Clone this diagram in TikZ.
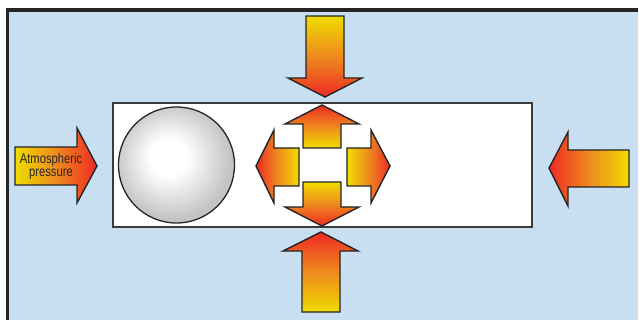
\documentclass[tikz,border=0pt]{standalone}
\usepackage{fontspec}
\newfontfamily\narrowsans[FakeStretch=0.8]{Liberation Sans}
\definecolor{bgblue}{HTML}{C8DFF2}
\definecolor{edgec}{HTML}{252525}
\definecolor{yel}{HTML}{F0DC00}
\definecolor{org}{HTML}{EE8A1E}
\definecolor{redc}{HTML}{EE2A24}
\pgfdeclareradialshading{ballshade}{\pgfpoint{-4bp}{4bp}}{color(0bp)=(white); color(8bp)=(white); color(25bp)=(black!23); color(50bp)=(black!23)}
\tikzset{
  arr/.style={draw=edgec, line width=1.4pt, line join=miter},
  toR/.style={arr, left color=yel, right color=redc, middle color=org},
  toL/.style={arr, left color=redc, right color=yel, middle color=org},
  toD/.style={arr, top color=yel, bottom color=redc, middle color=org},
  toU/.style={arr, top color=redc, bottom color=yel, middle color=org},
}
\begin{document}
\begin{tikzpicture}[x=1pt,y=-1pt]
\useasboundingbox (0,0) rectangle (639,320);
% frame
\fill[bgblue] (7.5,10) rectangle (638,321);
\draw[edgec, line width=3.5pt] (7.5,321) -- (7.5,10) -- (638,10);
% white box
\draw[fill=white, draw=edgec!90, line width=1.6pt] (113,103) rectangle (532,227);
% ball
\path[draw=edgec, line width=1.3pt, shading=ballshade] (176.5,165) circle (58);
% outer arrows
\path[toR] (15,147) -- (77,147) -- (77,128) -- (97,166) -- (77,203) -- (77,185) -- (15,185) -- cycle;
\path[toD] (306,16) -- (344,16) -- (344,78) -- (362,78) -- (325,97) -- (288,78) -- (306,78) -- cycle;
\path[toU] (302,312) -- (302,251) -- (283,251) -- (321,232) -- (358,251) -- (340,251) -- (340,312) -- cycle;
\path[toL] (629,150) -- (568,150) -- (568,132) -- (549,168) -- (568,206) -- (568,187) -- (629,187) -- cycle;
% inner arrows
\path[toU] (303,148) -- (303,124) -- (285,124) -- (322,105) -- (359,124) -- (341,124) -- (341,148) -- cycle;
\path[toD] (303,182) -- (341,182) -- (341,207) -- (359,207) -- (322,226) -- (285,207) -- (303,207) -- cycle;
\path[toL] (299,148) -- (274,148) -- (274,130) -- (256,166) -- (274,203) -- (274,186) -- (299,186) -- cycle;
\path[toR] (347,148) -- (371,148) -- (371,130) -- (390,166) -- (371,203) -- (371,186) -- (347,186) -- cycle;
% label
\node[font=\narrowsans\fontsize{14}{13}\selectfont, text=black!85, align=center, inner sep=0pt] (lbl) at (51,166) {Atmospheric\\pressure};
\end{tikzpicture}
\end{document}
